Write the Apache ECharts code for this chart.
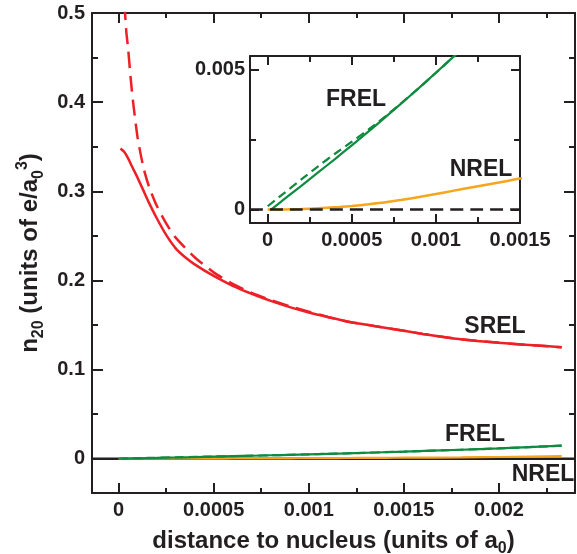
<!DOCTYPE html>
<html><head><meta charset="utf-8">
<script src="https://cdn.jsdelivr.net/npm/echarts@6/dist/echarts.min.js"></script>
<style>html,body{margin:0;padding:0;background:#fff}#c{width:577px;height:554px}</style>
</head><body><div id="c"></div>
<script>
// ---------- data ----------
const srelSolidX = [0.00001,0.00003,0.00005,0.00007,0.0001,0.00013,0.00016,0.0002,0.00025,0.0003,0.00035,0.0004,0.0005,0.0006,0.0007,0.0008,0.0009,0.001,0.0011,0.0012,0.0014,0.0016,0.0018,0.002,0.0022,0.00233];
const srelSolidY = [0.348,0.344,0.337,0.328,0.315,0.301,0.287,0.270,0.251,0.236,0.226,0.218,0.205,0.194,0.185,0.177,0.170,0.164,0.159,0.154,0.147,0.140,0.134,0.130,0.127,0.125];
const srelDashX = [0.000031,0.00004,0.00005,0.00006,0.00007,0.00008,0.0001,0.00013,0.00016,0.0002,0.00025,0.0003,0.0004,0.0005,0.0006,0.0007,0.0008,0.0009,0.001,0.0011,0.0012,0.0014,0.0016,0.0018,0.002,0.0022,0.00233];
const srelDashY = [0.51,0.48,0.46,0.435,0.412,0.393,0.36,0.327,0.305,0.284,0.264,0.248,0.226,0.209,0.196,0.186,0.178,0.171,0.165,0.159,0.154,0.147,0.140,0.134,0.130,0.127,0.125];
const frelSolidX = [0.00002,0.0001,0.0002,0.0003,0.0004,0.0005,0.0006,0.0007,0.0008,0.0009,0.001,0.0011,0.0012,0.0015,0.0018,0.002,0.00233];
const frelSolidY = [0,0.00038,0.00085,0.00133,0.00181,0.0023,0.0028,0.00331,0.00383,0.00436,0.0049,0.00545,0.006,0.0079,0.0100,0.0115,0.0146];
const frelDashX = [0,0.0001,0.0002,0.0003,0.0004,0.0005,0.0006,0.0007,0.0008,0.0009,0.001,0.0011,0.0012,0.0015,0.0018,0.002,0.00233];
const frelDashY = [0.00012,0.0006,0.00108,0.00155,0.002,0.00243,0.00287,0.00334,0.00384,0.00436,0.0049,0.00545,0.006,0.0079,0.0100,0.0115,0.0146];
const nrelX = [0,0.0001,0.0002,0.0003,0.0004,0.0005,0.0006,0.0007,0.0008,0.0009,0.001,0.0011,0.0012,0.0013,0.0014,0.0015,0.0018,0.002,0.00233];
const nrelY = [0,0.000005,0.00002,0.00005,0.00008,0.00013,0.00019,0.00026,0.00035,0.00045,0.00056,0.00067,0.00078,0.00089,0.001,0.00111,0.0015,0.0019,0.0028];

const mainXRange = [-0.00014, 0.0024];
const mainYRange = [-0.0385, 0.5];
const insetXRange = [-0.000105, 0.0015];
const insetYRange = [-0.00048, 0.0055];

const mainXTicks = [0,0.0005,0.001,0.0015,0.002];
const mainXTickLabels = ['0','0.0005','0.001','0.0015','0.002'];
const mainXMinor = [0.00025,0.00075,0.00125,0.00175,0.00225];
const mainYTicks = [0,0.1,0.2,0.3,0.4,0.5];
const mainYTickLabels = ['0','0.1','0.2','0.3','0.4','0.5'];
const mainYMinor = [0.05,0.15,0.25,0.35,0.45];
const insetXTicks = [0,0.0005,0.001,0.0015];
const insetXTickLabels = ['0','0.0005','0.001','0.0015'];
const insetXMinor = [0.00025,0.00075,0.00125];
const insetYTicks = [0,0.005];
const insetYTickLabels = ['0','0.005'];
const insetYMinor = [0.0025];

const zeroY = [0, 0];

// ---------- styling ----------
const INK = '#231f20';
const RED = '#ee2027';
const GREEN = '#0f8b3f';
const ORANGE = '#f7a51c';
const FONT = 'Liberation Sans';

function zip(xs, ys) { return xs.map((x, i) => [x, ys[i]]); }
function labelFor(vals, labels) {
  return function (v) {
    for (let i = 0; i < vals.length; i++) if (Math.abs(vals[i] - v) < 1e-12) return labels[i];
    return '';
  };
}
function makeAxes(grid, range, major, minor, labels, pos1, pos2, majLen, minLen, margin, extra) {
  const base = (pos, opts) => Object.assign({
    type: 'value', gridIndex: grid, min: range[0], max: range[1], position: pos,
    splitLine: { show: false }, minorTick: { show: false },
    axisLine: { show: false, onZero: false, lineStyle: { color: INK, width: 2 } },
    axisLabel: { show: false }
  }, opts);
  const tick = (vals, len) => ({ show: true, inside: true, length: len, customValues: vals, lineStyle: { color: INK, width: 2 } });
  return [
    base(pos1, Object.assign({
      axisLine: { show: true, onZero: false, lineStyle: { color: INK, width: 2 } },
      axisTick: tick(major, majLen),
      axisLabel: { show: true, customValues: major, formatter: labelFor(major, labels), margin: margin,
        fontFamily: FONT, fontWeight: 'bold', fontSize: 20, color: INK }
    }, extra || {})),
    base(pos1, { axisTick: tick(minor, minLen) }),
    base(pos2, { axisLine: { show: true, onZero: false, lineStyle: { color: INK, width: 2 } }, axisTick: tick(major, majLen) }),
    base(pos2, { axisTick: tick(minor, minLen) })
  ];
}

const titleRich = {
  m: { fontFamily: FONT, fontWeight: 'bold', fontSize: 24, color: INK, lineHeight: 32 },
  s: { fontFamily: FONT, fontWeight: 'bold', fontSize: 16, color: INK, verticalAlign: 'bottom', lineHeight: 12 },
  p: { fontFamily: FONT, fontWeight: 'bold', fontSize: 16, color: INK, verticalAlign: 'top', lineHeight: 12 }
};
const nameStyle = { fontFamily: FONT, fontWeight: 'bold', fontSize: 24, color: INK, lineHeight: 32, rich: titleRich };

const xAxes = [].concat(
  makeAxes(0, mainXRange, mainXTicks, mainXMinor, mainXTickLabels, 'bottom', 'top', 10, 5, 7, {
    name: '{m|distance to nucleus (units of a}{s|0}{m|)}', nameLocation: 'middle', nameGap: 19,
    nameTextStyle: nameStyle
  }),
  makeAxes(1, insetXRange, insetXTicks, insetXMinor, insetXTickLabels, 'bottom', 'top', 9, 6, 7)
);
const yAxes = [].concat(
  makeAxes(0, mainYRange, mainYTicks, mainYMinor, mainYTickLabels, 'left', 'right', 11, 6, 7, {
    name: '{m|n}{s|20}{m| (units of e/a}{s|0}{p|3}{m|)}', nameLocation: 'middle', nameGap: 42,
    nameTextStyle: nameStyle
  }),
  makeAxes(1, insetYRange, insetYTicks, insetYMinor, insetYTickLabels, 'left', 'right', 9, 6, 5)
);

function line(name, xs, ys, xi, color, width, dash, z) {
  return {
    type: 'line', name: name, xAxisIndex: xi, yAxisIndex: xi, data: zip(xs, ys),
    showSymbol: false, symbol: 'none', smooth: 0.2, clip: true, silent: true, z: z || 2,
    lineStyle: { color: color, width: width, type: dash || 'solid', cap: 'butt' }
  };
}

const series = [
  line('zero', mainXRange, zeroY, 0, INK, 2.5, 'solid', 2),
  line('NREL', nrelX, nrelY, 0, ORANGE, 2.2, 'solid', 3),
  line('FREL dashed', frelDashX, frelDashY, 0, GREEN, 2.2, [9, 5], 3),
  line('FREL', frelSolidX, frelSolidY, 0, GREEN, 2.2, 'solid', 3),
  line('SREL dashed', srelDashX, srelDashY, 0, RED, 2.5, [16, 8], 3),
  line('SREL', srelSolidX, srelSolidY, 0, RED, 2.5, 'solid', 3),
  line('NREL inset', nrelX, nrelY, 4, ORANGE, 2.5, 'solid', 3),
  line('zero inset', insetXRange, zeroY, 4, INK, 2.5, [13, 7], 4),
  line('FREL dashed inset', frelDashX, frelDashY, 4, GREEN, 2.2, [9, 5], 3),
  line('FREL inset', frelSolidX, frelSolidY, 4, GREEN, 2.2, 'solid', 3)
];

function txt(t, x, y) {
  return { type: 'text', x: x, y: y, z: 10,
    style: { text: t, fill: INK, font: 'bold 23px "' + FONT + '"', textAlign: 'center', textVerticalAlign: 'middle' } };
}

const chart = echarts.init(document.getElementById('c'), null, { renderer: 'canvas' });
chart.setOption({
  animation: false,
  backgroundColor: '#fff',
  grid: [
    { left: 92, right: 2, top: 13, bottom: 61, containLabel: false, outerBoundsMode: 'none' },
    { left: 250, right: 57, top: 56, bottom: 331, containLabel: false, outerBoundsMode: 'none' }
  ],
  xAxis: xAxes,
  yAxis: yAxes,
  series: series,
  graphic: [
    txt('SREL', 495, 327),
    txt('FREL', 475, 435),
    txt('NREL', 543, 475),
    txt('FREL', 356, 100),
    txt('NREL', 481, 170)
  ]
});
</script>
</body></html>
